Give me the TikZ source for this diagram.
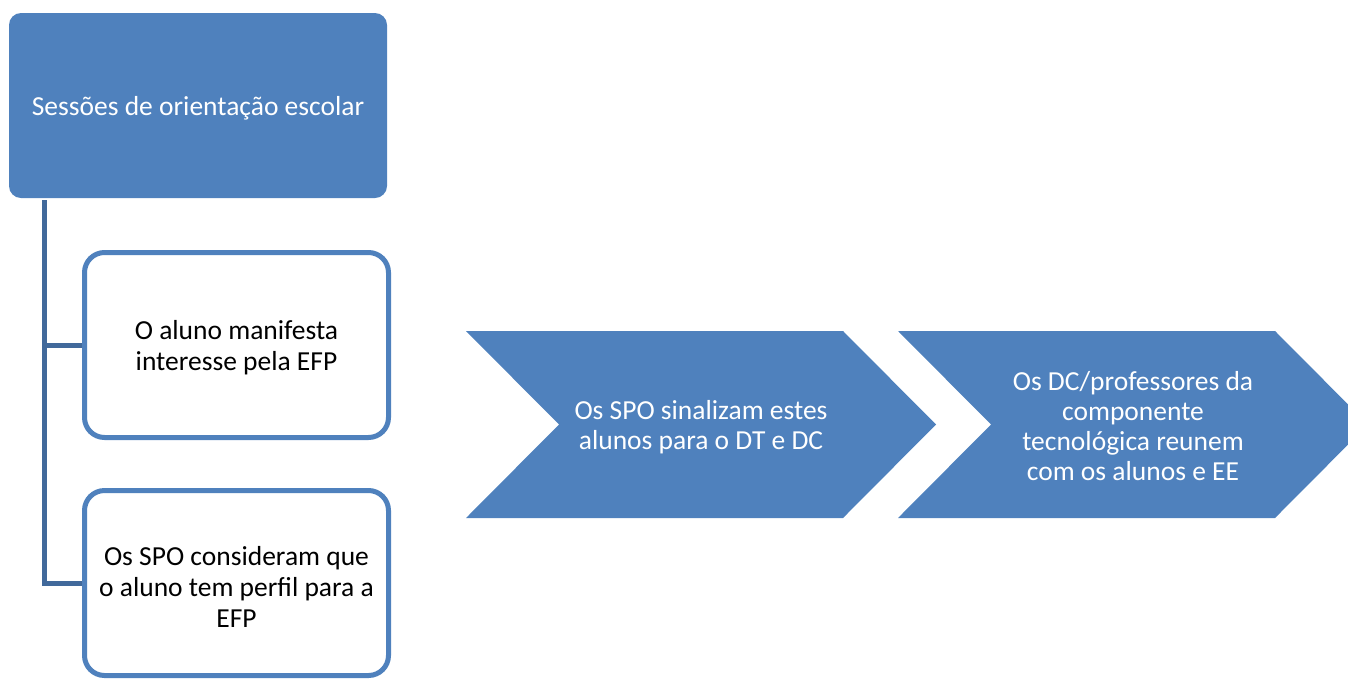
\documentclass[tikz,border=0pt]{standalone}
\usepackage{fontspec}
\setmainfont{Carlito}
\definecolor{blu}{HTML}{4F81BD}
\definecolor{dblu}{HTML}{41699B}
\begin{document}
\begin{tikzpicture}[x=1pt,y=-1pt,
 txt/.style={font=\fontsize{27.5}{31}\selectfont, align=center, inner sep=0pt},
 ctxt/.style={font=\fontsize{27.5}{30}\selectfont, align=center, text=white, inner sep=0pt},
 topbox/.style={fill=blu, draw=none, rounded corners=12pt, minimum width=378pt, minimum height=185pt, inner sep=0pt},
 subbox/.style={draw=blu, line width=5pt, fill=white, rounded corners=20pt, minimum width=304pt, minimum height=185pt, inner sep=0pt},
 link/.style={draw=dblu, line width=5pt},
 chev/.style={fill=blu}]
\useasboundingbox (0,0) rectangle (1348,678);
\clip (0,0) rectangle (1348,678);
\node[topbox] (top) at (198,105.5) {};
\node[txt, text=white] (topt) at ([yshift=-3pt]top.center) {Sessões de orientação escolar};
\coordinate (spine) at (44,200);
\node[subbox] (b1) at (236.5,345) {};
\node[txt] (b1t) at ([yshift=-3pt]b1.center) {O aluno manifesta\\interesse pela EFP};
\node[subbox] (b2) at (236.5,583) {};
\node[txt] (b2t) at ([yshift=-4pt]b2.center) {Os SPO consideram que\\o aluno tem perfil para a\\EFP};
\draw[link] (spine) |- (b1.west);
\draw[link] (spine) |- (b2.west);
\fill[chev] (466,331) -- (843,331) -- (936,424.5) -- (843,518) -- (466,518) -- (559,424.5) -- cycle;
\node[ctxt] (c1) at (701,427) {Os SPO sinalizam estes\\alunos para o DT e DC};
\fill[chev] (898,331) -- (1275,331) -- (1368,424.5) -- (1275,518) -- (898,518) -- (991,424.5) -- cycle;
\node[ctxt] (c2) at (1133,426.5) {Os DC/professores da\\componente\\tecnológica reunem\\com os alunos e EE};
\end{tikzpicture}
\end{document}
